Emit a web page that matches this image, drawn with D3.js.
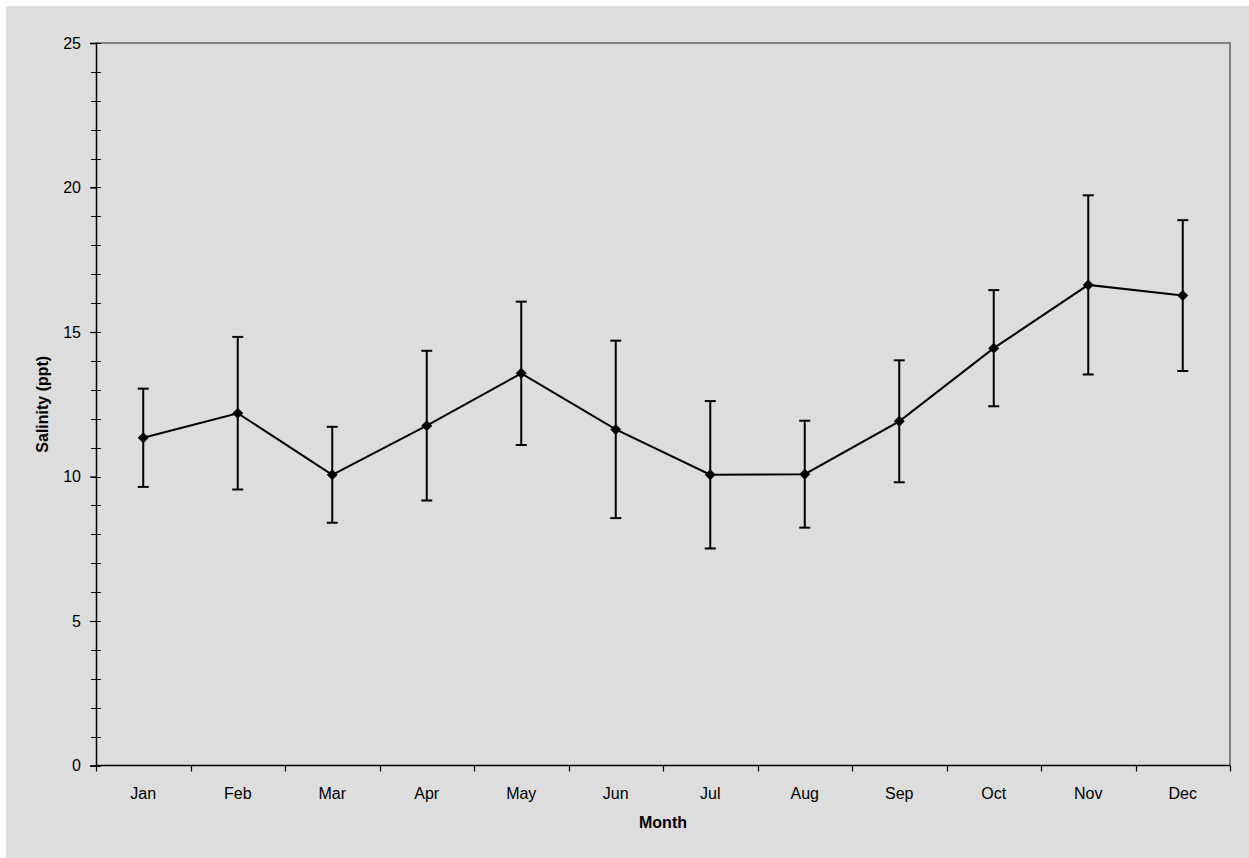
<!DOCTYPE html>
<html>
<head>
<meta charset="utf-8">
<script src="https://cdn.jsdelivr.net/npm/d3@7"></script>
<style>
  html, body { margin: 0; padding: 0; background: #ffffff; }
  svg { display: block; }
  text { font-family: "Liberation Sans", Arial, sans-serif; fill: #000; }
</style>
</head>
<body>
<svg id="chart" width="1249" height="858"></svg>
<script>
const months = ["Jan","Feb","Mar","Apr","May","Jun","Jul","Aug","Sep","Oct","Nov","Dec"];
const salinity = [11.34, 12.19, 10.06, 11.76, 13.57, 11.63, 10.06, 10.08, 11.91, 14.44, 16.63, 16.26];
const errors   = [1.70, 2.64, 1.66, 2.59, 2.48, 3.07, 2.55, 1.85, 2.11, 2.01, 3.10, 2.61];
const yMajorTicks = [0, 5, 10, 15, 20, 25];
const yMinorTicks = d3.range(0, 26, 1);
const xTitle = "Month";
const yTitle = "Salinity (ppt)";

const svg = d3.select("#chart");
const W = 1249, H = 858;
const plot = { left: 96, right: 1230, top: 43, bottom: 765.5 };

svg.append("rect").attr("x", 6).attr("y", 6).attr("width", W - 6).attr("height", H - 6).attr("fill", "#dddddd");

const x = d3.scaleBand().domain(months).range([plot.left, plot.right]).padding(0);
const y = d3.scaleLinear().domain([0, 25]).range([plot.bottom, plot.top]);

// plot frame top/right (gray)
svg.append("path")
  .attr("d", `M${plot.left},${plot.top}H${plot.right}V${plot.bottom}`)
  .attr("fill", "none").attr("stroke", "#808080").attr("stroke-width", 2);

// minor y ticks (cross)
svg.append("g").selectAll("line").data(yMinorTicks).join("line")
  .attr("x1", plot.left - 5).attr("x2", plot.left + 5)
  .attr("y1", d => Math.round(y(d)) + 0.5).attr("y2", d => Math.round(y(d)) + 0.5)
  .attr("stroke", "#000").attr("stroke-width", 1);

// major y axis
const yAxis = d3.axisLeft(y).tickValues(yMajorTicks).tickSize(6).tickPadding(9).tickFormat(d3.format("d"));
const gy = svg.append("g").attr("transform", `translate(${plot.left},0)`).call(yAxis);
gy.select(".domain").attr("stroke", "#000").attr("stroke-width", 1.5);
gy.selectAll(".tick line").attr("stroke", "#000").attr("stroke-width", 1.2);
gy.selectAll(".tick text").style("font-size", "16px").style("font-family", "Liberation Sans, Arial, sans-serif");

// x axis
const gx = svg.append("g").attr("transform", `translate(0,${plot.bottom})`)
  .call(d3.axisBottom(x).tickSize(0).tickPadding(22));
gx.select(".domain").remove();
gx.selectAll(".tick text").style("font-size", "16px").style("font-family", "Liberation Sans, Arial, sans-serif");
svg.append("line").attr("x1", plot.left).attr("x2", plot.right)
  .attr("y1", plot.bottom).attr("y2", plot.bottom).attr("stroke", "#000").attr("stroke-width", 1.5);
const boundaries = months.map(m => x(m)).concat([x(months[months.length - 1]) + x.bandwidth()]);
svg.append("g").selectAll("line").data(boundaries).join("line")
  .attr("x1", d => Math.round(d) + 0.5).attr("x2", d => Math.round(d) + 0.5)
  .attr("y1", plot.bottom).attr("y2", plot.bottom + 6)
  .attr("stroke", "#000").attr("stroke-width", 1.2);

// axis titles
svg.append("text").attr("x", (plot.left + plot.right) / 2).attr("y", 828)
  .attr("text-anchor", "middle").style("font-size", "16px").style("font-weight", "bold").text(xTitle);
svg.append("text").attr("transform", `translate(48,${(plot.top + plot.bottom) / 2}) rotate(-90)`)
  .attr("text-anchor", "middle").style("font-size", "16px").style("font-weight", "bold").text(yTitle);

const data = months.map((m, i) => ({ m, v: salinity[i], e: errors[i] }));
const cx = d => x(d.m) + x.bandwidth() / 2;

// error bars
const eb = svg.append("g").attr("stroke", "#000").attr("stroke-width", 2);
eb.selectAll(".v").data(data).join("line")
  .attr("x1", cx).attr("x2", cx).attr("y1", d => y(d.v + d.e)).attr("y2", d => y(d.v - d.e));
eb.selectAll(".t").data(data).join("line")
  .attr("x1", d => cx(d) - 5.5).attr("x2", d => cx(d) + 5.5).attr("y1", d => y(d.v + d.e)).attr("y2", d => y(d.v + d.e));
eb.selectAll(".b").data(data).join("line")
  .attr("x1", d => cx(d) - 5.5).attr("x2", d => cx(d) + 5.5).attr("y1", d => y(d.v - d.e)).attr("y2", d => y(d.v - d.e));

// line
svg.append("path").datum(data)
  .attr("d", d3.line().x(cx).y(d => y(d.v)))
  .attr("fill", "none").attr("stroke", "#000").attr("stroke-width", 2);

// diamond markers
svg.append("g").selectAll("path").data(data).join("path")
  .attr("transform", d => `translate(${cx(d)},${y(d.v)})`)
  .attr("d", "M0,-5.5L5.5,0L0,5.5L-5.5,0Z")
  .attr("fill", "#000");
</script>
</body>
</html>
